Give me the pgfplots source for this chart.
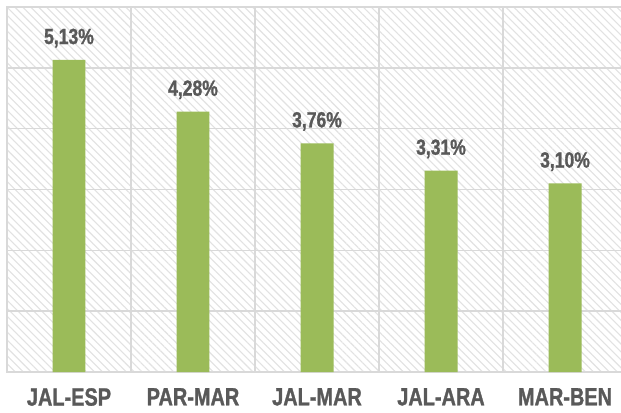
\documentclass[border=0pt]{standalone}
\usepackage{fontspec}
\setmainfont{Liberation Sans}[FakeStretch=0.8, BoldFeatures={FakeBold=1.2}]
\usepackage{pgfplots}
\pgfplotsset{compat=1.18}
\usetikzlibrary{patterns.meta}
\definecolor{bargreen}{HTML}{9BBB59}
\definecolor{txt}{HTML}{595959}
\definecolor{gridc}{HTML}{D9D9D9}
\definecolor{hatch}{HTML}{E2E2E2}
\begin{document}
\begin{tikzpicture}[x=1bp,y=1bp]
\begin{axis}[
  at={(7bp,40bp)}, anchor=south west,
  scale only axis, width=620bp, height=365bp,
  xmin=-0.5, xmax=4.5, ymin=0, ymax=6,
  xtick={0,1,2,3,4},
  xticklabels={JAL-ESP,PAR-MAR,JAL-MAR,JAL-ARA,MAR-BEN},
  minor xtick={-0.5,0.5,1.5,2.5,3.5,4.5},
  ytick={0,1,2,3,4,5,6},
  yticklabels={},
  major tick length=0pt, minor tick length=0pt,
  xmajorgrids=false, xminorgrids=true, ymajorgrids=true,
  grid style={gridc, line width=1.5bp},
  minor grid style={gridc, line width=1.5bp},
  axis line style={gridc, line width=1.5bp},
  axis background/.style={fill=white, postaction={pattern={Lines[angle=-45,distance=5.6bp,line width=1.1bp]}, pattern color=hatch}},
  xticklabel style={font=\fontsize{25}{25}\selectfont\bfseries, text=txt, inner sep=0pt, yshift=-16bp},
  ybar, bar width=0.266,
  point meta=explicit symbolic,
  nodes near coords,
  nodes near coords style={font=\fontsize{22}{22}\selectfont\bfseries, text=txt, anchor=south, yshift=9bp},
  clip=false,
]
\addplot[fill=bargreen, draw=none] coordinates {
  (0,5.13) [5,13\%]
  (1,4.28) [4,28\%]
  (2,3.76) [3,76\%]
  (3,3.31) [3,31\%]
  (4,3.10) [3,10\%]
};
\end{axis}
\pgfresetboundingbox
\path (0,0) rectangle (621,412);
\end{tikzpicture}
\end{document}
